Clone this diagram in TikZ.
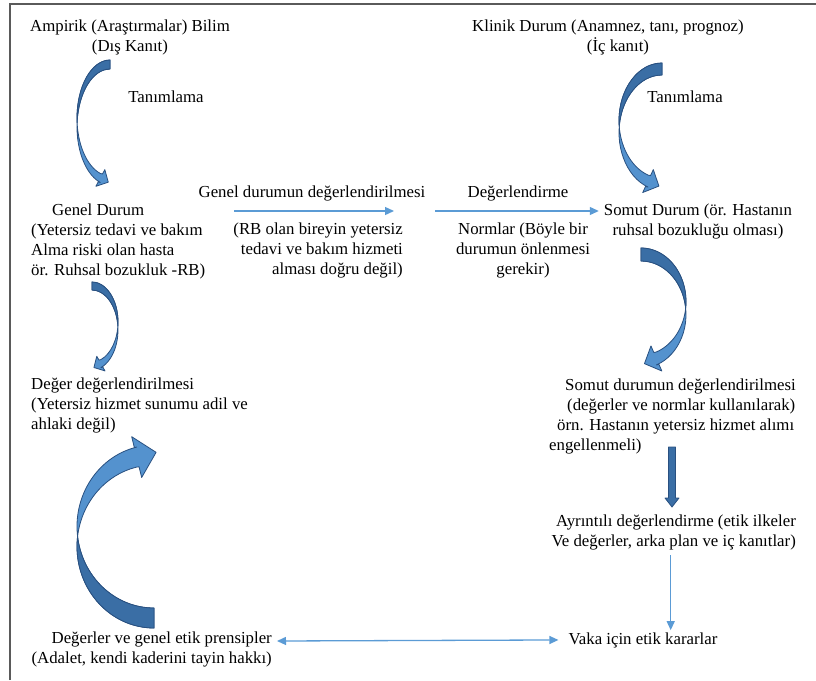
\documentclass[tikz,border=0pt]{standalone}
\usepackage{fontspec}
\IfFontExistsTF{LiberationSerif-Regular.ttf}
  {\setmainfont{LiberationSerif-Regular.ttf}\newcommand{\txtsize}{\fontsize{16.8}{19.8}\selectfont}}
  {\newcommand{\txtsize}{\fontsize{15.4}{19.8}\selectfont}}
\usetikzlibrary{arrows.meta,positioning}

\definecolor{bendlight}{RGB}{84,146,206}
\definecolor{benddark}{RGB}{58,110,165}
\definecolor{bendline}{RGB}{41,80,128}
\definecolor{thinblue}{RGB}{91,155,213}
\definecolor{framegray}{RGB}{90,90,90}

% curved block arrow: tail on top, bulging left, head at the bottom
% #1 x radius, #2 y radius, #3 band width, #4 end angle
\newcommand{\bendarrow}[4]{%
  \pgfmathsetmacro\bax{#1*cos(#4)}%
  \pgfmathsetmacro\bay{#2*sin(#4)}%
  \pgfmathsetmacro\bmy{\bay+#3/2}%
  \pgfmathsetmacro\bul{veclen(#1*sin(#4),#2*cos(#4))}%
  \pgfmathsetmacro\bux{#1*sin(#4)/\bul}%
  \pgfmathsetmacro\buy{-#2*cos(#4)/\bul}%
  \pgfmathsetmacro\bw{#3/2}%
  \pgfmathsetmacro\bh{1.05*#3}%
  \pgfmathsetmacro\bcr{asin(#3/(2*#2))}%
  \filldraw[bendbody] (0,-#2) arc[start angle=270, end angle=#4, x radius=#1, y radius=#2]
    -- ({\bax+\bw*\buy},{\bmy-\bw*\bux}) -- ({\bax+\bh*\buy},{\bmy-\bh*\bux})
    -- ({\bax+#3*\bux},{\bmy+#3*\buy})
    -- ({\bax-\bh*\buy},{\bmy+\bh*\bux}) -- ({\bax-\bw*\buy},{\bmy+\bw*\bux})
    -- (\bax,{\bay+#3}) arc[start angle=#4, end angle=270, x radius=#1, y radius=#2] -- cycle;
  \filldraw[bendtail] (0,-#2) arc[start angle=270, end angle={180-\bcr}, x radius=#1, y radius=#2]
    arc[start angle={180+\bcr}, end angle=270, x radius=#1, y radius=#2] -- cycle;
}

\begin{document}
\begin{tikzpicture}[x=1pt, y=-1pt,
    txt/.style={inner sep=0pt, font=\txtsize, align=center},
    arrow/.style={->, >={Triangle[length=9pt,width=8pt]}, thinblue, line width=1.3pt},
    bendbody/.style={fill=bendlight, draw=bendline, line width=0.8pt, line join=round},
    bendtail/.style={fill=benddark, draw=bendline, line width=0.8pt, line join=round},
    frame/.style={framegray, line width=1.6pt}
  ]
  \useasboundingbox (0,0) rectangle (816,680);
  \draw[frame] (10,680) -- (10,4) -- (816,4);

  % texts
  \node[txt, anchor=north] (ampirik) at (130,20) {Ampirik (Araştırmalar) Bilim\\(Dış Kanıt)};
  \node[txt, anchor=north] (klinik) at (608,20) {Klinik Durum (Anamnez, tanı, prognoz)\\\hspace*{20pt}(İç kanıt)};
  \node[txt, anchor=base] (tanim1) at (166,102) {Tanımlama};
  \node[txt, anchor=base] (tanim2) at (685,102) {Tanımlama};
  \node[txt, anchor=north west, align=left] (genel) at (31,204) {\hspace*{21pt}Genel Durum\\(Yetersiz tedavi ve bakım\\Alma riski olan hasta\\ör. Ruhsal bozukluk -RB)};
  \node[txt, anchor=base] (gdlabel) at (312,197) {Genel durumun değerlendirilmesi};
  \node[txt, anchor=north east, align=right] (rb) at (403,223) {(RB olan bireyin yetersiz\\tedavi ve bakım hizmeti\\alması doğru değil)};
  \node[txt, anchor=base] (deglabel) at (518,197) {Değerlendirme};
  \node[txt, anchor=north] (normlar) at (523,223) {Normlar (Böyle bir\\durumun önlenmesi\\gerekir)};
  \node[txt, anchor=north] (somut) at (698,204) {Somut Durum (ör. Hastanın\\ruhsal bozukluğu olması)};
  \node[txt, anchor=north west, align=left] (degdeg) at (31,378) {Değer değerlendirilmesi\\(Yetersiz hizmet sunumu adil ve\\ahlaki değil)};
  \node[txt, anchor=north west, align=left] (somutdeg) at (549,379) {\hspace*{16pt}Somut durumun değerlendirilmesi\\\hspace*{18pt}(değerler ve normlar kullanılarak)\\\hspace*{8pt}örn. Hastanın yetersiz hizmet alımı\\engellenmeli)};
  \node[txt, anchor=north east, align=right] (ayrinti) at (796,515) {Ayrıntılı değerlendirme (etik ilkeler\\Ve değerler, arka plan ve iç kanıtlar)};
  \node[txt, anchor=base] (vaka) at (643,644) {Vaka için etik kararlar};
  \node[txt, anchor=north east, align=right] (degerler) at (272,632) {Değerler ve genel etik prensipler\\(Adalet, kendi kaderini tayin hakkı)};

  % curved block arrows
  \begin{scope}[shift={(110,118)}]
    \bendarrow{33}{58}{9}{107}
  \end{scope}
  \begin{scope}[shift={(662,120.6)}]
    \bendarrow{43}{57.6}{12}{109}
  \end{scope}
  \begin{scope}[shift={(92,322)}, xscale=-1]
    \bendarrow{26}{40}{8}{110}
  \end{scope}
  \begin{scope}[shift={(641,301.6)}, xscale=-1]
    \bendarrow{45}{53.6}{13}{110}
  \end{scope}
  \begin{scope}[shift={(154,546.5)}, yscale=-1]
    \bendarrow{77}{81.5}{20}{103}
  \end{scope}

  % straight block arrow
  \filldraw[bendtail] (668.5,447) -- (675.5,447) -- (675.5,498) -- (679,498) -- (672,507)
    -- (665,498) -- (668.5,498) -- cycle;

  % thin arrows
  \coordinate (g1) at (234,211);
  \coordinate (g2) at (394,211);
  \coordinate (d1) at (435,211);
  \coordinate (v1) at ([xshift=-3pt]ayrinti.south);
  \draw[arrow] (g1) -- (g2);
  \draw[arrow, shorten >=5pt] (d1) -- (d1 -| somut.west);
  \draw[arrow, shorten <=5pt, shorten >=2pt] (v1) -- (v1 |- vaka.north);
  \draw[arrow, <->] ([xshift=5pt,yshift=-9pt]degerler.north east) -- ([xshift=-10pt]vaka.west);
\end{tikzpicture}
\end{document}
